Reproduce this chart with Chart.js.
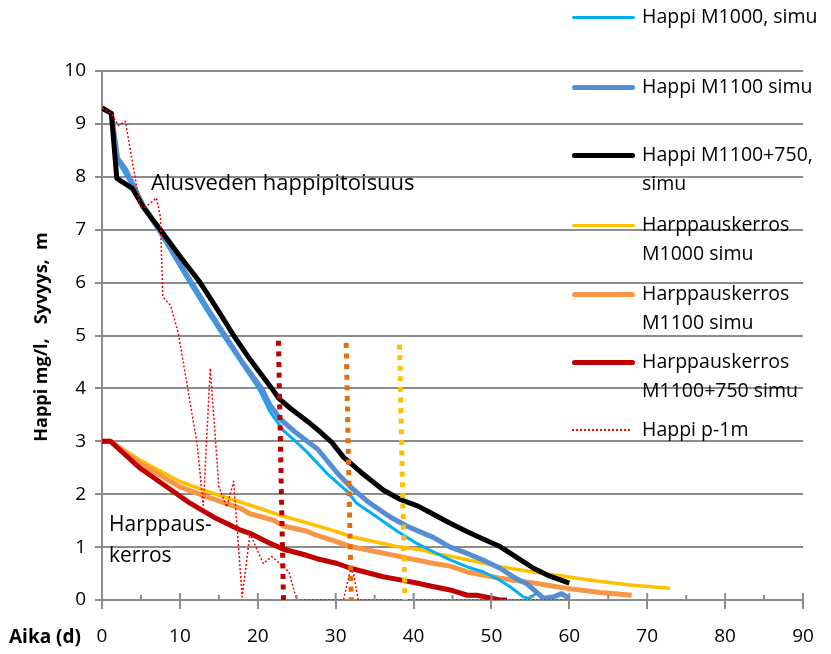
<!DOCTYPE html>
<html>
<head>
<meta charset="utf-8">
<script src="https://cdn.jsdelivr.net/npm/chart.js@4.4.0/dist/chart.umd.min.js"></script>
<style>
  body { margin: 0; background: #fff; font-family: "Open Sans", sans-serif; }
  #caixa { position: relative; width: 831px; height: 654px; overflow: hidden; }
  #grafico { position: absolute; left: 0; top: 0; }
  .teksti { position: absolute; color: #000; white-space: pre; }
  #tituloY { left: -110px; top: 325px; width: 300px; text-align: center; font-weight: bold; font-size: 18px; line-height: 24px; transform: rotate(-90deg); }
  #tituloX { left: 9px; top: 624px; font-weight: bold; font-size: 19px; line-height: 24px; }
  #notaAlus { left: 151px; top: 170px; font-size: 22px; line-height: 22px; }
  #notaHarp { left: 109px; top: 508px; font-size: 21px; line-height: 31px; }
  .legLinha { position: absolute; left: 572px; width: 63px; border-radius: 3px; }
  .legTexto { position: absolute; left: 642px; font-size: 19.5px; line-height: 28.5px; white-space: pre; }
</style>
</head>
<body>
<div id="caixa">
  <canvas id="grafico" width="831" height="654"></canvas>
  <div class="teksti" id="tituloY">Happi mg/l,   Syvyys,  m</div>
  <div class="teksti" id="tituloX">Aika (d)</div>
  <div class="teksti" id="notaAlus">Alusveden happipitoisuus</div>
  <div class="teksti" id="notaHarp">Harppaus-
kerros</div>
  <div id="legenda"></div>
</div>
<script>
// aika (d) ja happi (mg/l), luettu kuvasta
var aikaM1000 = [0, 1.2, 2, 3, 4, 5.3, 7.2, 9.2, 11.2, 13.3, 15.5, 17.8, 20.1, 21.6, 23.3, 25, 26.3, 28.9, 31.5, 32.7, 35.3, 37.9, 40.4, 42, 44.7, 47, 49, 51, 52.4, 54.1, 54.8, 55.8, 57.1];
var happiM1000 = [9.3, 9.2, 8.3, 8.05, 7.8, 7.4, 7.0, 6.5, 6.0, 5.5, 5.0, 4.5, 4.0, 3.55, 3.2, 2.98, 2.8, 2.39, 2.05, 1.83, 1.57, 1.3, 1.07, 0.95, 0.76, 0.62, 0.53, 0.38, 0.25, 0.06, 0.03, 0.13, 0.0];

var aikaM1100 = [0, 1.2, 2, 3, 4, 5.3, 7.3, 9.4, 11.5, 13.6, 15.8, 18, 20.5, 21.6, 22.9, 25, 27.7, 30.2, 31.9, 34.2, 37, 39.1, 41.3, 42.6, 44.7, 46.9, 49, 51.1, 53, 54.6, 56.7, 58, 59, 60];
var happiM1100 = [9.3, 9.2, 8.35, 8.15, 7.85, 7.45, 7.0, 6.5, 6.0, 5.5, 5.0, 4.5, 4.0, 3.68, 3.42, 3.15, 2.85, 2.4, 2.14, 1.85, 1.57, 1.4, 1.26, 1.18, 1.0, 0.88, 0.75, 0.6, 0.42, 0.3, 0.03, 0.06, 0.12, 0.03];

var aikaM1100_750 = [0, 1.2, 1.9, 3.9, 5.3, 7.5, 10, 12.6, 15, 16.9, 19, 21.8, 22.7, 24.2, 26.7, 28, 29.5, 31, 33.2, 36.1, 38.3, 40.5, 42.3, 44.7, 46.9, 49, 51.1, 53, 55.4, 57.5, 60];
var happiM1100_750 = [9.3, 9.2, 7.97, 7.78, 7.43, 7.0, 6.5, 6.0, 5.45, 5.0, 4.55, 4.0, 3.81, 3.62, 3.34, 3.18, 2.98, 2.7, 2.42, 2.08, 1.9, 1.78, 1.64, 1.45, 1.29, 1.15, 1.01, 0.83, 0.6, 0.45, 0.32];

var aikaHarpM1000 = [0, 1.1, 4.9, 10, 13, 16.9, 20.3, 22.9, 26.5, 30.2, 31.9, 35, 37.9, 41.3, 42.6, 44.7, 46.9, 51.1, 55.4, 59.7, 64, 68.2, 72.9];
var harpM1000 = [3.0, 3.0, 2.64, 2.24, 2.08, 1.89, 1.73, 1.6, 1.45, 1.29, 1.2, 1.1, 1.01, 0.94, 0.88, 0.83, 0.76, 0.63, 0.53, 0.44, 0.35, 0.28, 0.22];

var aikaHarpM1100 = [0, 1.1, 4.9, 10, 13.5, 17.8, 19, 22, 23.3, 26.3, 27.6, 30.2, 31.9, 38.3, 42.6, 44.7, 46.9, 51.1, 55.4, 59.7, 64, 68];
var harpM1100 = [3.0, 3.0, 2.58, 2.14, 1.95, 1.73, 1.63, 1.51, 1.4, 1.3, 1.22, 1.1, 1.01, 0.82, 0.69, 0.64, 0.53, 0.41, 0.32, 0.22, 0.14, 0.09];

var aikaHarpM1100_750 = [0, 1.1, 2.8, 4.9, 8.3, 11.3, 14.3, 17.8, 19, 21.6, 23.3, 25.9, 27.6, 30.2, 31.9, 36.1, 38.3, 40.4, 42.6, 44.7, 46.9, 48.1, 51.1, 52];
var harpM1100_750 = [3.0, 3.0, 2.77, 2.49, 2.14, 1.83, 1.57, 1.32, 1.26, 1.07, 0.96, 0.86, 0.78, 0.69, 0.6, 0.44, 0.38, 0.32, 0.25, 0.19, 0.09, 0.09, 0.0, 0.0];

var aikaMitattu = [0, 1.2, 2.1, 3.0, 4.9, 5.6, 7.0, 7.5, 7.8, 8.8, 9.8, 10.9, 12.2, 13.0, 13.9, 15.0, 16.0, 16.9, 18.0, 19.0, 20.7, 21.8, 23.1, 24.0, 25.0, 31.0, 31.9, 32.3, 32.9, 60];
var happiMitattu = [9.3, 9.2, 8.97, 9.05, 7.43, 7.43, 7.6, 7.24, 5.73, 5.57, 5.04, 4.09, 2.96, 1.79, 4.38, 2.14, 1.76, 2.24, 0.06, 1.26, 0.69, 0.82, 0.66, 0.53, 0.0, 0.0, 0.57, 0.5, 0.0, 0.0];

// pystyviivat (happi loppuu)
var pystyM1100_750 = { aika: [22.65, 23.3], arvo: [4.9, 0] };
var pystyM1100 = { aika: [31.35, 32.0], arvo: [4.86, 0] };
var pystyM1000 = { aika: [38.2, 38.9], arvo: [4.83, 0] };

var xTicks = [0, 10, 20, 30, 40, 50, 60, 70, 80, 90];
var yTicks = [0, 1, 2, 3, 4, 5, 6, 7, 8, 9, 10];

var corGrade = "#8c8c8c";

function pontos(xs, ys) {
  var p = [];
  for (var i = 0; i < xs.length; i++) {
    p.push({ x: xs[i], y: ys[i] });
  }
  return p;
}

function linha(nome, xs, ys, cor, largura, ordem, tracejado) {
  return {
    label: nome,
    data: pontos(xs, ys),
    borderColor: cor,
    backgroundColor: cor,
    borderWidth: largura,
    borderDash: tracejado || [],
    borderCapStyle: "butt",
    borderJoinStyle: "round",
    pointRadius: 0,
    tension: 0,
    fill: false,
    order: ordem,
  };
}

var datasets = [
  linha("Happi M1000, simu", aikaM1000, happiM1000, "#00B0F0", 3, 5),
  linha("Happi M1100 simu", aikaM1100, happiM1100, "#558ED5", 5, 4),
  linha("Happi M1100+750, simu", aikaM1100_750, happiM1100_750, "#000000", 5, 3),
  linha("Harppauskerros M1000 simu", aikaHarpM1000, harpM1000, "#FFC000", 3.5, 8),
  linha("Harppauskerros M1100 simu", aikaHarpM1100, harpM1100, "#F79646", 5, 7),
  linha("Harppauskerros M1100+750 simu", aikaHarpM1100_750, harpM1100_750, "#C00000", 5, 6),
  linha("Happi p-1m", aikaMitattu, happiMitattu, "#FF0000", 1.5, 2, [2, 2]),
  linha("", pystyM1100_750.aika, pystyM1100_750.arvo, "#C00000", 5, 0, [5, 5.6]),
  linha("", pystyM1100.aika, pystyM1100.arvo, "#E46C0A", 5, 0, [5, 5.6]),
  linha("", pystyM1000.aika, pystyM1000.arvo, "#FFC000", 5, 0, [5, 5.6]),
];

// pienet väliviivat x-akselille (5 päivän välein)
var pikkuTicks = {
  id: "pikkuTicks",
  afterDatasetsDraw: function (chart) {
    var ctx = chart.ctx;
    var x = chart.scales.x;
    var ala = chart.chartArea.bottom;
    ctx.save();
    ctx.strokeStyle = corGrade;
    ctx.lineWidth = 2;
    for (var v = 0; v <= 90; v += 5) {
      var px = x.getPixelForValue(v);
      ctx.beginPath();
      ctx.moveTo(px, ala - (v % 10 == 0 ? 7 : 5));
      ctx.lineTo(px, ala);
      ctx.stroke();
    }
    ctx.restore();
  },
};

var fonte = { family: "'Open Sans', sans-serif", size: 19 };

new Chart(document.getElementById("grafico").getContext("2d"), {
  type: "line",
  data: { datasets: datasets },
  options: {
    responsive: false,
    animation: false,
    layout: { padding: { top: 71, right: 28, left: 0, bottom: 0 } },
    plugins: {
      legend: { display: false },
      tooltip: { enabled: false },
    },
    scales: {
      x: {
        type: "linear",
        min: 0,
        max: 90,
        afterFit: function (s) { s.height = 54; },
        afterBuildTicks: function (s) { s.ticks = xTicks.map(function (v) { return { value: v }; }); },
        border: { color: corGrade, width: 2 },
        grid: { drawOnChartArea: false, drawTicks: true, tickLength: 9, color: corGrade, lineWidth: 2 },
        ticks: { color: "#000", font: fonte, padding: 16, maxRotation: 0 },
      },
      y: {
        type: "linear",
        min: 0,
        max: 10,
        afterFit: function (s) { s.width = 102; },
        afterBuildTicks: function (s) { s.ticks = yTicks.map(function (v) { return { value: v }; }); },
        border: { color: corGrade, width: 2 },
        grid: { drawOnChartArea: true, drawTicks: true, tickLength: 7, color: corGrade, lineWidth: 2 },
        ticks: { color: "#000", font: fonte, padding: 9 },
      },
    },
  },
  plugins: [pikkuTicks],
});

// selite oikealle, tekstit rivitetty kuten kuvassa
var selite = [
  { teksti: "Happi M1000, simu", y: 17, cor: "#00B0F0", paksuus: 3 },
  { teksti: "Happi M1100 simu", y: 87, cor: "#558ED5", paksuus: 5 },
  { teksti: "Happi M1100+750,\nsimu", y: 155, cor: "#000000", paksuus: 5 },
  { teksti: "Harppauskerros\nM1000 simu", y: 225, cor: "#FFC000", paksuus: 3 },
  { teksti: "Harppauskerros\nM1100 simu", y: 294, cor: "#F79646", paksuus: 5 },
  { teksti: "Harppauskerros\nM1100+750 simu", y: 362, cor: "#C00000", paksuus: 5 },
  { teksti: "Happi p-1m", y: 430, cor: "#FF0000", paksuus: 0 },
];

var legenda = document.getElementById("legenda");
for (var i = 0; i < selite.length; i++) {
  var s = selite[i];
  var viiva = document.createElement("div");
  viiva.className = "legLinha";
  if (s.paksuus > 0) {
    viiva.style.top = (s.y - s.paksuus / 2) + "px";
    viiva.style.height = s.paksuus + "px";
    viiva.style.background = s.cor;
  } else {
    // pisteviiva
    viiva.style.top = (s.y - 1) + "px";
    viiva.style.height = "2px";
    viiva.style.borderRadius = "0";
    viiva.style.width = "60px";
    viiva.style.background = "repeating-linear-gradient(90deg, " + s.cor + " 0px, " + s.cor + " 2px, transparent 2px, transparent 4px)";
  }
  legenda.appendChild(viiva);

  var txt = document.createElement("div");
  txt.className = "legTexto";
  txt.style.top = (s.y - 15) + "px";
  txt.textContent = s.teksti;
  legenda.appendChild(txt);
}
</script>
</body>
</html>
